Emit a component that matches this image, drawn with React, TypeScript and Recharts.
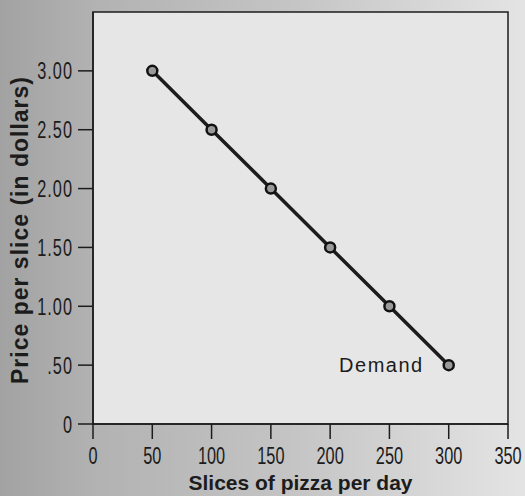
import { LineChart, Line, XAxis, YAxis, ReferenceArea, ReferenceDot, Label } from "recharts";

const slices = [50, 100, 150, 200, 250, 300];
const prices = [3.0, 2.5, 2.0, 1.5, 1.0, 0.5];
const xTicks = [0, 50, 100, 150, 200, 250, 300, 350];
const yTicks = [0, 0.5, 1.0, 1.5, 2.0, 2.5, 3.0];

const data = slices.map((s, i) => ({ slices: s, price: prices[i] }));

const FONT = "'Liberation Sans', Arial, sans-serif";
const INK = "#1c1c1c";

const fmtPrice = (v: number) => (v === 0 ? "0" : v < 1 ? v.toFixed(2).slice(1) : v.toFixed(2));

// condensed-looking tick text: squeeze the glyphs horizontally
function XTick(props: any) {
  const { x, y, payload } = props;
  return (
    <g transform={`translate(${x},${y})`}>
      <text transform="scale(0.68,1)" textAnchor="middle" dy="0.71em" fill={INK} fontSize={24} fontFamily={FONT}>
        {payload.value}
      </text>
    </g>
  );
}

function YTick(props: any) {
  const { x, y, payload } = props;
  return (
    <g transform={`translate(${x},${y})`}>
      <text transform="scale(0.68,1)" textAnchor="end" dy="0.355em" fill={INK} fontSize={24} fontFamily={FONT} letterSpacing={1.5}>
        {fmtPrice(payload.value)}
      </text>
    </g>
  );
}

export default function App() {
  return (
    <div
      style={{
        position: "fixed",
        left: 0,
        top: 0,
        width: 525,
        height: 496,
        background: "linear-gradient(to right, #a2a2a2 0%, #b2b2b2 18%, #c4c4c4 55%, #e4e4e4 100%)",
      }}
    >
      <LineChart width={525} height={496} data={data} margin={{ top: 12, right: 17, bottom: 0, left: 0 }}>
        <ReferenceArea
          x1={0}
          x2={350}
          y1={0}
          y2={3.5}
          fill="#e6e6e6"
          fillOpacity={1}
          stroke={INK}
          strokeWidth={1.5}
          ifOverflow="visible"
        />
        <XAxis
          dataKey="slices"
          type="number"
          domain={[0, 350]}
          ticks={xTicks}
          interval={0}
          tickSize={15}
          tickMargin={8}
          height={72}
          stroke={INK}
          strokeWidth={1.5}
          tick={<XTick />}
        >
          <Label
            value="Slices of pizza per day"
            position="insideBottom"
            offset={6}
            style={{ fill: INK, fontSize: 21, fontWeight: 700, fontFamily: FONT }}
          />
        </XAxis>
        <YAxis
          type="number"
          domain={[0, 3.5]}
          ticks={yTicks}
          interval={0}
          tickSize={15}
          tickMargin={5}
          width={93}
          stroke={INK}
          strokeWidth={1.5}
          tick={<YTick />}
        >
          <Label
            value="Price per slice (in dollars)"
            position="insideLeft"
            angle={-90}
            offset={20}
            textAnchor="middle"
            dy={12}
            style={{ fill: INK, fontSize: 23, fontWeight: 700, fontFamily: FONT, letterSpacing: 1 }}
          />
        </YAxis>
        <Line
          dataKey="price"
          stroke={INK}
          strokeWidth={3.5}
          isAnimationActive={false}
          dot={{ r: 5, fill: "#9a9a9a", stroke: "#111", strokeWidth: 2.5 }}
        />
        <ReferenceDot
          x={300}
          y={0.5}
          r={0}
          label={{
            value: "Demand",
            position: "left",
            offset: 25,
            style: { fill: INK, fontSize: 20, fontFamily: FONT, letterSpacing: 1.5 },
          }}
        />
      </LineChart>
    </div>
  );
}
